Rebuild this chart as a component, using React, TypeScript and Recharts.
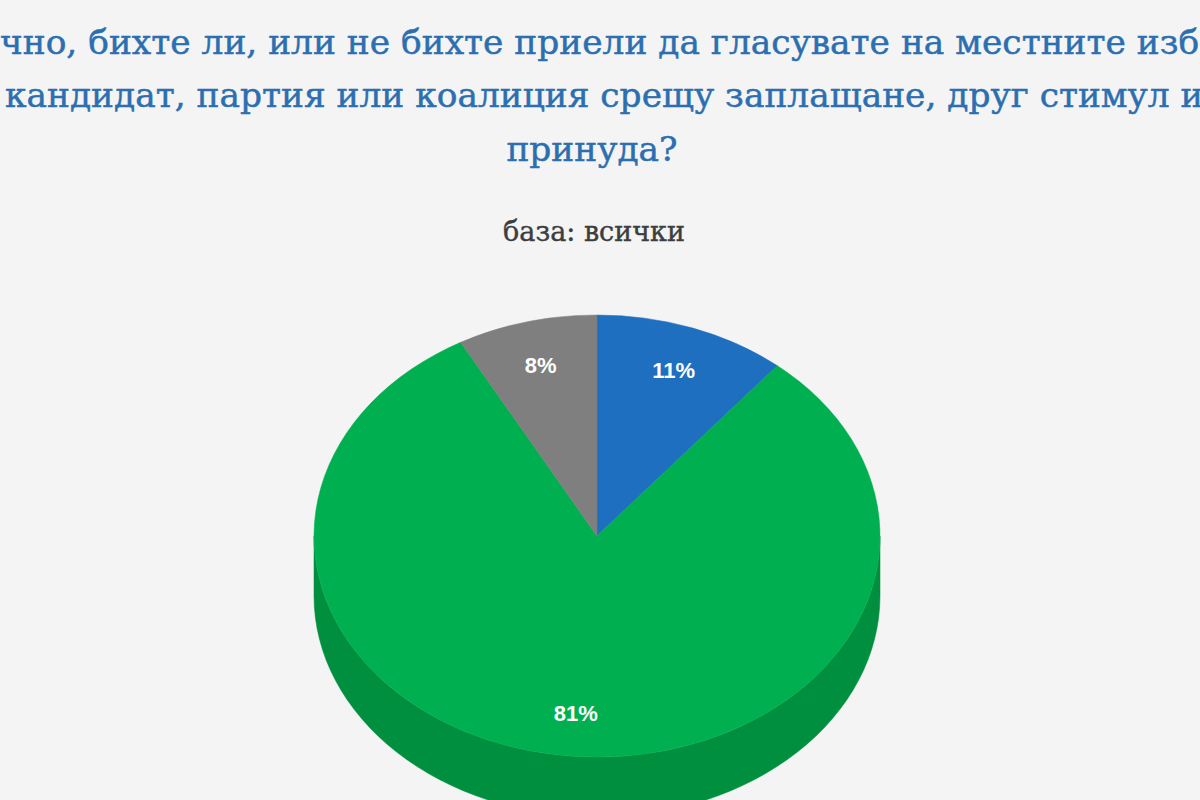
import { PieChart, Pie, Cell } from 'recharts'

// survey answers (base: all respondents)
const answers = ['Да', 'Не', 'Не мога да преценя']
const shares = [11, 81, 8]
const topColors = ['#1f6fc0', '#00b050', '#7f7f7f']
const sideColors = ['#17579a', '#008f3f', '#5e5e5e']

const titleLines = [
  'чно, бихте ли, или не бихте приели да гласувате на местните изб',
  'кандидат, партия или коалиция срещу заплащане, друг стимул и',
  'принуда?',
]
const subtitle = 'база: всички'

const W = 1200
const H = 800
const CX = 597
const CY = 536
const RX = 283
const SQUASH = 221 / 283
const DEPTH = 60
const RAD = Math.PI / 180

const data = answers.map((name, i) => ({ name, value: shares[i] }))

function ellipsePoint(cx: number, cy: number, rx: number, ry: number, angle: number) {
  return [cx + rx * Math.cos(-angle * RAD), cy + ry * Math.sin(-angle * RAD)]
}

function TopSlice(props: any) {
  const { cx, cy, outerRadius, startAngle, endAngle, fill } = props
  const ry = outerRadius * SQUASH
  const [x1, y1] = ellipsePoint(cx, cy, outerRadius, ry, startAngle)
  const [x2, y2] = ellipsePoint(cx, cy, outerRadius, ry, endAngle)
  const large = Math.abs(startAngle - endAngle) > 180 ? 1 : 0
  const sweep = startAngle > endAngle ? 1 : 0
  const d = `M${cx},${cy} L${x1},${y1} A${outerRadius},${ry} 0 ${large} ${sweep} ${x2},${y2} Z`
  return <path d={d} fill={fill} stroke={fill} strokeWidth={0.5} />
}

// the visible wall of a slice: only the part of the rim that faces the viewer
function SideSlice(props: any) {
  const { cx, cy, outerRadius, startAngle, endAngle, fill } = props
  const ry = outerRadius * SQUASH
  const hiA = Math.max(startAngle, endAngle)
  const loA = Math.min(startAngle, endAngle)
  const paths: string[] = []
  for (let k = -2; k <= 1; k++) {
    const lo = Math.max(loA, -180 + 360 * k)
    const hi = Math.min(hiA, 360 * k)
    if (lo >= hi) continue
    const pts: string[] = []
    const n = 64
    for (let i = 0; i <= n; i++) {
      const [x, y] = ellipsePoint(cx, cy, outerRadius, ry, hi - ((hi - lo) * i) / n)
      pts.push(`${x},${y}`)
    }
    for (let i = n; i >= 0; i--) {
      const [x, y] = ellipsePoint(cx, cy, outerRadius, ry, hi - ((hi - lo) * i) / n)
      pts.push(`${x},${y + DEPTH}`)
    }
    paths.push('M' + pts.join(' L') + ' Z')
  }
  if (!paths.length) return <g />
  return <path d={paths.join(' ')} fill={fill} stroke={fill} strokeWidth={0.5} />
}

function renderLabel(props: any) {
  const { cx, cy, midAngle, outerRadius, percent } = props
  const r = outerRadius * 0.8
  const [x, y] = ellipsePoint(cx, cy, r, r * SQUASH, midAngle)
  return (
    <text
      x={x}
      y={y + 1}
      fill="#ffffff"
      textAnchor="middle"
      dominantBaseline="central"
      fontFamily="'Liberation Sans', Arial, sans-serif"
      fontWeight="bold"
      fontSize={22}
    >
      {`${Math.round(percent * 100)}%`}
    </text>
  )
}

export default function App() {
  return (
    <div style={{ position: 'absolute', left: 0, top: 0, width: W, height: H, background: '#f4f4f4', overflow: 'hidden' }}>
      <PieChart width={W} height={H} margin={{ top: 0, right: 0, bottom: 0, left: 0 }}>
        <Pie
          data={data}
          dataKey="value"
          nameKey="name"
          cx={CX}
          cy={CY}
          outerRadius={RX}
          startAngle={90}
          endAngle={-270}
          stroke="none"
          shape={SideSlice}
          activeShape={SideSlice}
          inactiveShape={SideSlice}
          isAnimationActive={false}
        >
          {data.map((d, i) => (
            <Cell key={d.name} fill={sideColors[i]} />
          ))}
        </Pie>
        <Pie
          data={data}
          dataKey="value"
          nameKey="name"
          cx={CX}
          cy={CY}
          outerRadius={RX}
          startAngle={90}
          endAngle={-270}
          stroke="none"
          shape={TopSlice}
          activeShape={TopSlice}
          inactiveShape={TopSlice}
          label={renderLabel}
          labelLine={false}
          isAnimationActive={false}
        >
          {data.map((d, i) => (
            <Cell key={d.name} fill={topColors[i]} />
          ))}
        </Pie>
      </PieChart>
      <svg width={W} height={H} style={{ position: 'absolute', left: 0, top: 0, pointerEvents: 'none' }}>
        <g fontFamily="'DejaVu Serif', serif" fill="#2c6fb0" stroke="#2c6fb0" strokeWidth={0.5} fontSize={34.4}>
          <text x={0} y={54}>{titleLines[0]}</text>
          <text x={5} y={107}>{titleLines[1]}</text>
          <text x={592} y={161} textAnchor="middle">{titleLines[2]}</text>
        </g>
        <text
          x={594}
          y={241}
          textAnchor="middle"
          fontFamily="'DejaVu Serif', serif"
          fontSize={27}
          fill="#3d3d3d"
          stroke="#3d3d3d"
          strokeWidth={0.4}
        >
          {subtitle}
        </text>
      </svg>
    </div>
  )
}
